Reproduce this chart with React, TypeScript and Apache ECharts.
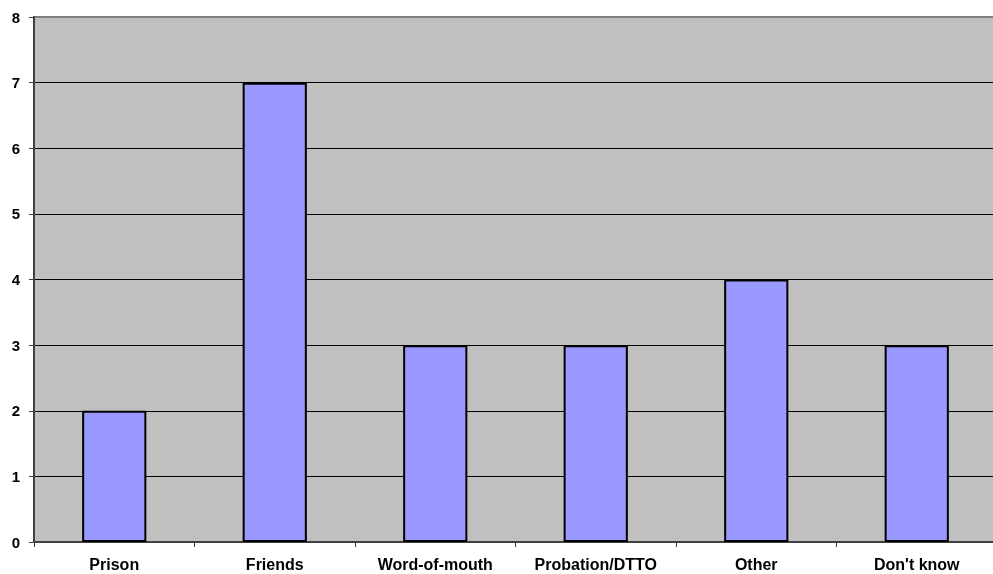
import React, { useEffect, useRef } from "react";
import * as echarts from "echarts";

const categories = ["Prison", "Friends", "Word-of-mouth", "Probation/DTTO", "Other", "Don't know"];
const values = [2, 7, 3, 3, 4, 3];
const yMin = 0;
const yMax = 8;

export default function App() {
  const ref = useRef<HTMLDivElement>(null);
  useEffect(() => {
    const chart = echarts.init(ref.current!, null, { renderer: "svg" });
    const splitColors = Array.from({ length: yMax - yMin + 1 }, (_, i) => (i === yMax - yMin ? "#808080" : "#000"));
    chart.setOption({
      animation: false,
      grid: {
        left: 34,
        top: 17,
        right: 3,
        bottom: 32,
        show: true,
        backgroundColor: "#C0C0C0",
        borderColor: "#808080",
        borderWidth: 2,
      },
      xAxis: {
        type: "category",
        data: categories,
        axisLine: { lineStyle: { color: "#404040", width: 2 } },
        axisTick: { show: true, length: 5, lineStyle: { color: "#404040", width: 1 } },
        axisLabel: {
          color: "#000",
          fontFamily: "Liberation Sans, Arial, sans-serif",
          fontWeight: "bold",
          fontSize: 16,
          margin: 14,
        },
      },
      yAxis: {
        type: "value",
        min: yMin,
        max: yMax,
        interval: 1,
        axisLine: { show: true, lineStyle: { color: "#404040", width: 2 } },
        axisTick: { show: true, length: 5, lineStyle: { color: "#404040", width: 1 } },
        axisLabel: {
          color: "#000",
          fontFamily: "Liberation Sans, Arial, sans-serif",
          fontWeight: "bold",
          fontSize: 15,
          margin: 14,
        },
        splitLine: { show: true, lineStyle: { color: splitColors, width: 1 } },
      },
      series: [
        {
          type: "bar",
          data: values,
          barWidth: "40%",
          itemStyle: { color: "#9999FF", borderColor: "#000", borderWidth: 2 },
        },
      ],
    });
    return () => chart.dispose();
  }, []);
  return (
    <div style={{ position: "fixed", left: 0, top: 0, width: 993, height: 574, overflow: "hidden" }}>
      <div ref={ref} style={{ width: 1000, height: 574 }} />
    </div>
  );
}
